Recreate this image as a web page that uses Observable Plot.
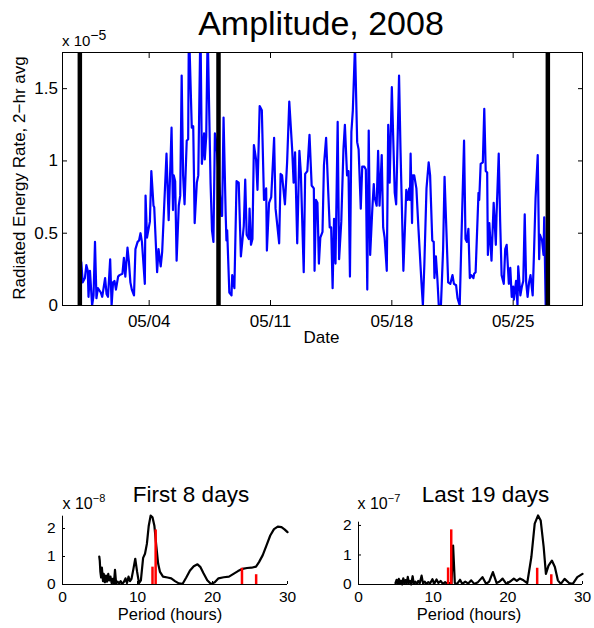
<!DOCTYPE html>
<html><head><meta charset="utf-8">
<script src="https://cdn.jsdelivr.net/npm/d3@7"></script>
<script src="https://cdn.jsdelivr.net/npm/@observablehq/plot@0.6"></script>
<style>
body{margin:0;background:#fff;}
#fig{position:relative;width:594px;height:628px;overflow:hidden;background:#fff}
#fig svg{position:absolute}
</style></head><body><div id="fig"></div>
<script>
const FONT = '"Liberation Sans", Arial, Helvetica, sans-serif';

// ---- Main series: hours after 2008-04-30 00:00 UTC, radiated energy rate (x 1e-5), 2-hr avg
const mainHours = [2,4,7,9,11,12,14,17,19,21,23,25,29,31,35,37,39,42,44,46,48,50,53,55,59,61,63,66,68,70,72,75,77,80,82,84,86,90,91,93,97,99,102,103,
107,109,112,114,120,123,127,129,130,132,134,137,139,141,143,145,148,150,151,155,157,159,162,164,167,169,172,173,175,177,181,183,185,187,189,
196,197,199,202,203,204,207,210,211,214,217,220,223,227,229,231,234,235,237,239,241,244,246,249,252,255,258,259,262,265,269,271,276,278,280,284,287,290,294,296,298,301,304,306,310,312,315,318,321,324,
325,327,329,331,333,336,338,341,344,346,348,350,352,354,357,359,362,365,367,370,372,374,376,378,381,384,386,389,391,394,396,398,400,402,405,407,408,411,413,415,418,420,422,425,427,429,432,
436,438,442,444,448,452,454,456,457,458,460,461,463,466,469,473,475,477,480,483,485,488,490,491,493,495,497,500,503,505,507,510,513,516,518,521,523,526,528,532,534,536,538,540,
542,545,546,548,552,553,555,558,560,562,564,565,567,570,573,576,577,580,582,584,587,589,591,594,596,598,600,601,604,606,607,610,612,614,616,618,620,622,624,627,629,631,634,636,637,640,642,643,645];
const mainValues = [0.30,0.16,0.19,0.28,0.24,0.06,0.24,0.00,0.07,0.44,0.05,0.12,0.09,0.06,0.19,0.08,0.06,0.32,0.00,0.16,0.17,0.11,0.20,0.21,0.22,0.33,0.20,0.40,0.30,0.16,0.11,0.07,0.39,0.44,0.45,0.50,0.44,0.15,0.76,0.47,0.58,0.93,0.69,0.68,
0.23,0.39,0.27,0.37,1.05,0.59,1.23,0.66,0.90,0.86,0.31,0.69,0.76,1.59,0.90,0.70,1.14,1.15,1.95,1.23,1.24,0.57,0.85,0.90,1.95,0.98,1.19,1.01,1.17,1.90,0.85,0.52,0.44,1.19,1.13,
0.62,0.62,1.30,0.62,0.45,0.52,0.09,0.07,0.21,0.12,0.86,0.85,0.34,0.55,0.87,0.49,0.46,0.67,0.42,0.46,1.11,1.01,0.80,1.38,1.35,0.73,0.81,0.38,0.71,0.75,1.16,0.67,0.43,0.91,0.90,0.70,0.99,1.41,1.08,0.85,1.06,0.43,1.07,0.92,0.23,0.91,0.93,1.18,0.83,0.81,
0.24,0.73,0.71,0.29,0.47,0.51,0.97,1.16,0.78,0.54,0.54,0.12,0.60,0.29,1.27,0.32,0.58,1.08,1.25,0.90,0.93,0.20,1.20,1.35,1.80,1.13,1.08,0.67,0.96,0.96,0.94,0.11,1.21,0.35,0.67,0.84,0.75,0.69,1.07,0.69,1.04,0.54,0.47,0.24,1.25,0.85,1.51,
0.78,0.70,1.59,1.08,0.24,0.80,0.73,0.81,0.73,1.05,0.57,0.90,0.90,0.81,0.52,0.16,0.00,0.28,0.81,0.99,0.90,0.45,0.44,0.19,0.34,0.19,0.00,0.00,0.39,0.89,0.60,0.16,0.15,0.21,0.15,0.14,0.05,0.00,0.39,1.14,0.46,0.44,0.53,0.19,
0.21,0.19,0.22,0.23,0.78,0.73,0.98,0.99,1.36,0.93,0.92,0.35,0.57,0.31,0.71,0.42,0.63,1.05,0.58,0.21,0.15,0.39,0.42,0.15,0.26,0.06,0.13,0.04,0.17,0.00,0.27,0.07,0.13,0.17,0.63,0.16,0.06,0.16,0.21,0.07,0.39,0.74,1.04,0.32,0.49,0.45,0.35,0.61,0.00];

const boundaryDays = ["2008-04-30", "2008-05-08", "2008-05-27"];
const dateTicks = ["2008-05-04", "2008-05-11", "2008-05-18", "2008-05-25"];
const mainYTicks = [0, 0.5, 1, 1.5];

// ---- Periodograms
const firstPeriod = [4.90,4.97,5.05,5.15,5.25,5.40,5.50,5.65,5.80,5.95,6.10,6.25,6.40,6.55,6.70,6.85,7.00,7.15,7.35,7.55,7.75,7.95,8.20,8.40,8.60,8.80,9.00,9.20,9.45,9.70,9.95,10.20,10.45,10.75,11.00,11.25,11.50,11.75,12.00,12.25,12.50,12.75,13.00,13.40,14.00,14.50,15.00,15.50,16.00,16.50,17.00,17.50,18.00,18.40,18.80,19.30,19.80,20.30,20.80,21.50,22.20,22.80,23.40,24.00,24.60,25.20,25.80,26.20,26.70,27.20,27.70,28.20,28.70,29.20,29.60,30.00];
const firstPower = [1.00,0.85,0.45,0.25,0.60,0.12,0.38,0.08,0.32,0.10,0.38,0.15,0.28,0.05,0.20,0.02,0.52,0.03,0.10,0.04,0.12,0.02,0.10,0.22,0.05,0.28,0.12,0.20,0.55,0.92,0.45,0.05,0.15,0.95,1.10,1.45,2.10,2.46,2.40,2.10,1.40,0.75,0.45,0.28,0.25,0.22,0.12,0.04,0.02,0.25,0.50,0.65,0.72,0.62,0.40,0.15,0.02,0.08,0.22,0.26,0.28,0.38,0.48,0.56,0.59,0.60,0.64,0.80,1.05,1.40,1.75,1.98,2.07,2.05,1.97,1.87];
const lastPeriod = [4.95,5.10,5.25,5.40,5.55,5.70,5.85,6.00,6.15,6.30,6.45,6.60,6.75,6.90,7.05,7.25,7.40,7.60,7.80,8.00,8.20,8.45,8.65,8.85,9.10,9.35,9.60,9.90,10.15,10.45,10.70,11.00,11.30,11.60,11.90,12.20,12.45,12.67,12.90,13.20,13.60,13.90,14.30,14.70,15.10,15.50,16.00,16.60,17.10,17.50,18.00,18.50,18.90,19.30,19.80,20.30,20.80,21.20,21.60,22.10,22.60,23.15,23.60,24.05,24.40,24.80,25.10,25.45,25.90,26.30,26.70,27.10,27.60,28.20,28.70,29.30,30.00];
const lastPower = [0.05,0.16,0.02,0.19,0.03,0.13,0.00,0.21,0.05,0.15,0.02,0.26,0.05,0.12,0.00,0.28,0.03,0.10,0.02,0.12,0.04,0.30,0.03,0.10,0.02,0.08,0.04,0.18,0.03,0.17,0.05,0.12,0.02,0.08,0.02,0.05,0.03,1.32,0.05,0.02,0.16,0.02,0.10,0.03,0.14,0.02,0.08,0.25,0.02,0.10,0.42,0.05,0.10,0.20,0.02,0.10,0.20,0.12,0.20,0.14,0.05,0.93,2.06,2.34,2.17,1.27,0.36,0.64,0.81,0.59,0.14,0.02,0.19,0.05,0.02,0.25,0.36];

// Tidal constituent periods (S2, M2, K1, O1) and red-bar heights
const tidePeriods = [12.00, 12.42, 23.93, 25.82];
const firstTideAmp = [0.62, 1.95, 0.58, 0.35];
const lastTideAmp = [0.56, 1.85, 0.55, 0.33];
const periodTicks = [0, 10, 20, 30];
const powerTicks = [0, 1, 2];

// ---- build tables
const t0 = Date.UTC(2008, 3, 30);
const series = mainHours.map((h, i) => ({date: new Date(t0 + h * 3600e3), value: mainValues[i]}));
const boundaries = boundaryDays.map(d => new Date(d + "T00:00Z"));
const xTicks = dateTicks.map(d => new Date(d + "T00:00Z"));
const firstData = firstPeriod.map((p, i) => ({p, v: firstPower[i]}));
const lastData = lastPeriod.map((p, i) => ({p, v: lastPower[i]}));
const firstTides = tidePeriods.map((p, i) => ({p, v: firstTideAmp[i]}));
const lastTides = tidePeriods.map((p, i) => ({p, v: lastTideAmp[i]}));

const fig = document.getElementById("fig");
const baseStyle = {fontFamily: FONT, fontSize: "17px", color: "black", background: "transparent", overflow: "visible"};

const main = Plot.plot({
  width: 594, height: 360,
  marginLeft: 62, marginRight: 12, marginTop: 52, marginBottom: 55,
  style: baseStyle,
  x: {type: "utc", domain: [new Date("2008-04-29T00:00Z"), new Date("2008-05-29T00:00Z")]},
  y: {domain: [0, 1.75]},
  marks: [
    Plot.line(series, {x: "date", y: "value", stroke: "#0000ff", strokeWidth: 2.2, clip: true}),
    Plot.ruleX(boundaries, {stroke: "black", strokeWidth: 4.5}),
    Plot.frame({stroke: "black", strokeWidth: 1}),
    Plot.axisX(xTicks, {anchor: "bottom", tickSize: -5, tickPadding: 14, tickFormat: d3.utcFormat("%m/%d"), label: null}),
    Plot.axisX(xTicks, {anchor: "top", tickSize: -5, tickFormat: () => "", label: null}),
    Plot.axisY(mainYTicks, {anchor: "left", tickSize: -5, tickPadding: 9.5, tickFormat: d => String(d), label: null}),
    Plot.axisY(mainYTicks, {anchor: "right", tickSize: -5, tickFormat: () => "", label: null})
  ]
});
main.style.left = "0px"; main.style.top = "0px";
fig.appendChild(main);

function periodPlot(data, tides, ymax, opts) {
  return Plot.plot({
    width: opts.width, height: 148,
    marginLeft: opts.ml, marginRight: opts.mr, marginTop: opts.mt, marginBottom: 44,
    style: {...baseStyle, fontSize: "15.5px"},
    x: {domain: [0, 30]},
    y: {domain: [0, ymax]},
    marks: [
      Plot.line(data, {x: "p", y: "v", stroke: "black", strokeWidth: 2.2}),
      Plot.ruleX(tides, {x: "p", y1: 0, y2: "v", stroke: "#ff0000", strokeWidth: 2.5}),
      Plot.ruleY([0], {stroke: "black"}),
      Plot.ruleX([0], {stroke: "black"}),
      Plot.axisX(periodTicks, {tickSize: -3, tickPadding: 9.5, label: null}),
      Plot.axisY(powerTicks, {tickSize: -3, tickPadding: 10, label: null})
    ]
  });
}
const p1 = periodPlot(firstData, firstTides, 2.44, {width: 300, ml: 62, mr: 13, mt: 35.7});
p1.style.left = "0px"; p1.style.top = "480px";
fig.appendChild(p1);
const p2 = periodPlot(lastData, lastTides, 2.11, {width: 294, ml: 58, mr: 12, mt: 41.7});
p2.style.left = "300px"; p2.style.top = "480px";
fig.appendChild(p2);

// ---- overlay texts
const ov = d3.select(fig).append("svg").attr("width", 594).attr("height", 628)
  .style("left", "0px").style("top", "0px").style("pointer-events", "none")
  .attr("font-family", FONT).attr("fill", "black");
function txt(x, y, s, size, anchor) {
  return ov.append("text").attr("x", x).attr("y", y).attr("font-size", size)
    .attr("text-anchor", anchor || "middle").text(s);
}
txt(321, 35, "Amplitude, 2008", 34);
txt(321.5, 342.5, "Date", 17);
ov.append("text").attr("transform", "translate(25,178) rotate(-90)")
  .attr("font-size", 17).attr("text-anchor", "middle").text("Radiated Energy Rate, 2\u2212hr avg");
function sci(x, y, exp, size, supSize, raise) {
  const t = ov.append("text").attr("x", x).attr("y", y).attr("font-size", size);
  t.append("tspan").text("x 10");
  t.append("tspan").attr("font-size", supSize).attr("dy", -raise).text("\u2212" + exp);
}
sci(62, 46, "5", 15, 14, 6);
txt(191, 501.7, "First 8 days", 22.5);
txt(485.5, 501.7, "Last 19 days", 22.5);
sci(62.5, 509, "8", 16, 11, 7);
sci(357.5, 509, "7", 16, 11, 7);
txt(170, 619.5, "Period (hours)", 16.5);
txt(469, 619.5, "Period (hours)", 16.5);
</script></body></html>
